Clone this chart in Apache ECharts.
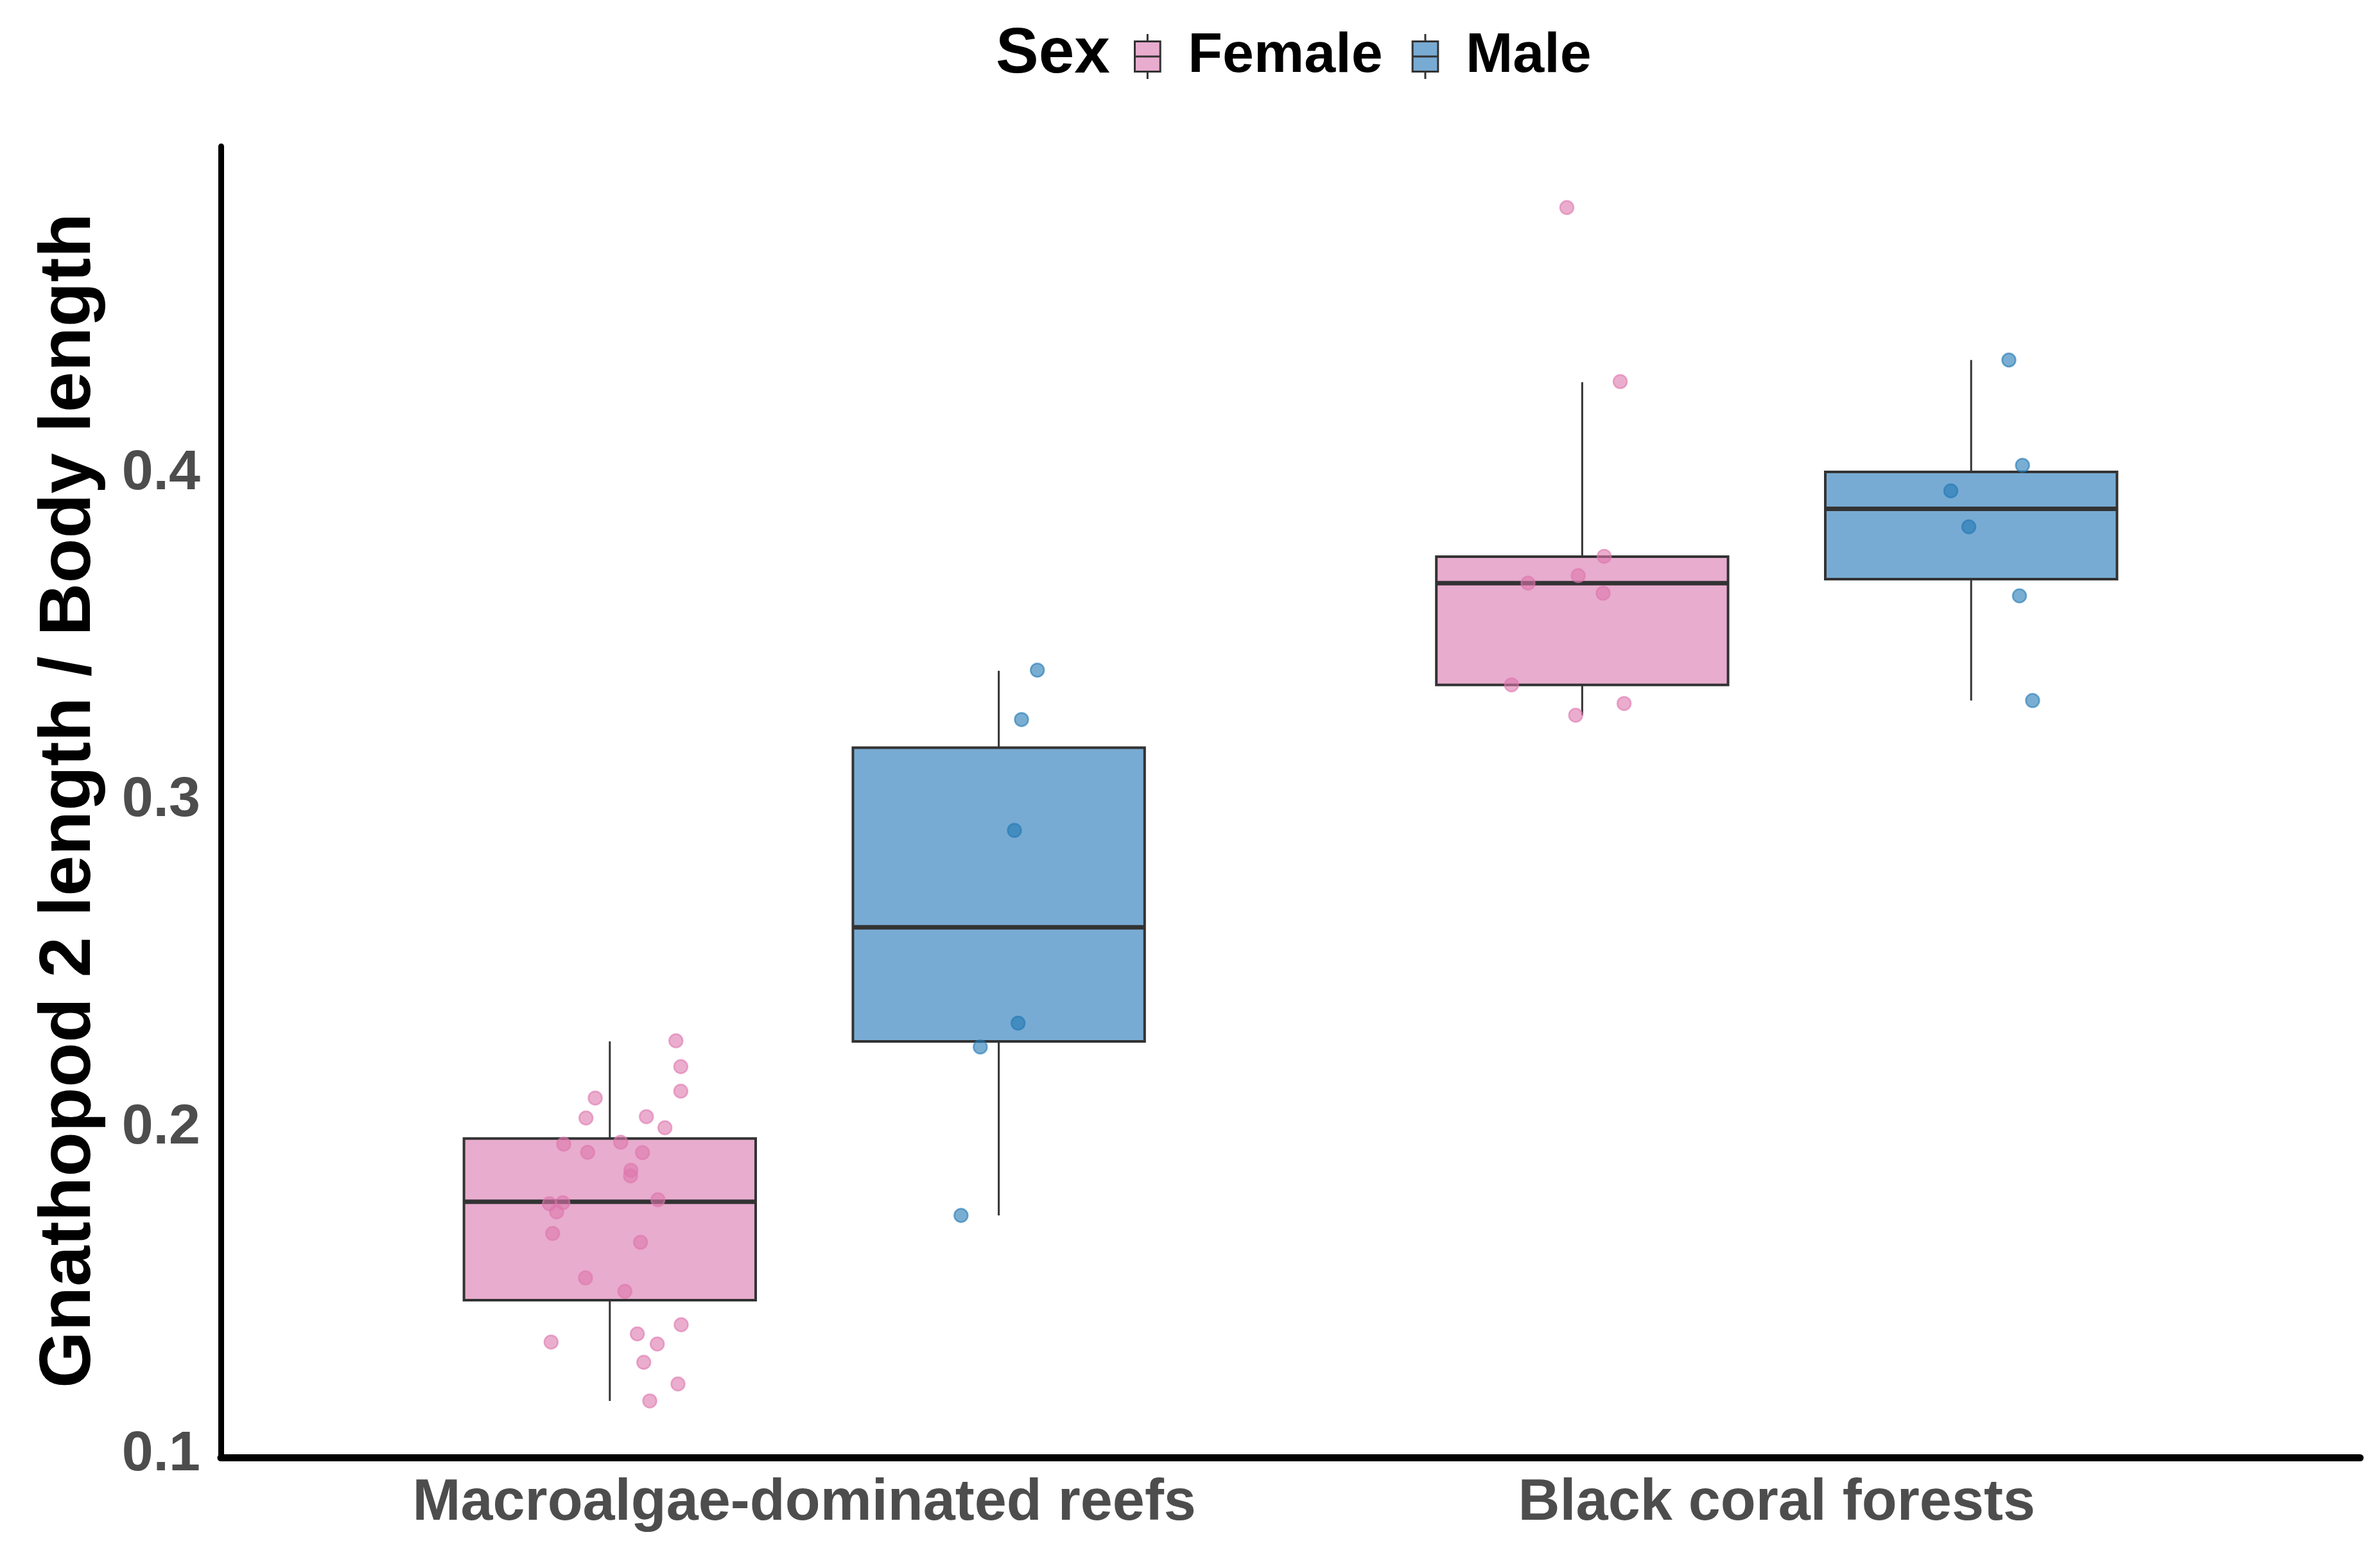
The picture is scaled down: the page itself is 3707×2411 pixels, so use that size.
<!DOCTYPE html>
<html>
<head>
<meta charset="utf-8">
<script src="https://cdn.jsdelivr.net/npm/echarts@6/dist/echarts.min.js"></script>
<style>
html,body{margin:0;padding:0;background:#fff;}
#chart{width:3707px;height:2411px;}
</style>
</head>
<body>
<div id="chart"></div>
<script>
// ---------------- DATA ----------------
const categories = ['Macroalgae-dominated reefs', 'Black coral forests'];
const sexes = ['Female', 'Male'];
const yTicks = [0.1, 0.2, 0.3, 0.4];

// box statistics per category: [lower whisker, Q1, median, Q3, upper whisker]
const femaleBoxes = [
  [0.1165, 0.1473, 0.1774, 0.1967, 0.2264],
  [0.3261, 0.3354, 0.3665, 0.3746, 0.4279]
];
const maleBoxes = [
  [0.1732, 0.2264, 0.2613, 0.3162, 0.3397],
  [0.3306, 0.3677, 0.3892, 0.4005, 0.4347]
];

// individual observations (ratio) and their horizontal jitter (axis units)
const femaleMacroalgae = [0.2266, 0.2187, 0.2112, 0.2091, 0.2030, 0.2034, 0.2000, 0.1950, 0.1925, 0.1956,
  0.1924, 0.1870, 0.1853, 0.1768, 0.1771, 0.1780, 0.1743, 0.1677, 0.1650, 0.1541,
  0.1500, 0.1398, 0.1345, 0.1370, 0.1339, 0.1283, 0.1217, 0.1165];
const femaleMacroalgaeJitter = [0.068, 0.073, 0.073, -0.015, -0.0245, 0.0376, 0.0567, -0.0474, -0.0228, 0.0112,
  0.0336, 0.0217, 0.0213, -0.0621, -0.0483, 0.0495, -0.0547, -0.0588, 0.0316, -0.025,
  0.0155, 0.0734, -0.0604, 0.0283, 0.0488, 0.0349, 0.0701, 0.0411];

const maleMacroalgae = [0.3399, 0.3248, 0.2909, 0.2320, 0.2247, 0.1732];
const maleMacroalgaeJitter = [0.0397, 0.0234, 0.0161, 0.0199, -0.019, -0.0388];

const femaleBlackCoral = [0.4813, 0.4281, 0.3747, 0.3688, 0.3665, 0.3634, 0.3354, 0.3297, 0.3261];
const femaleBlackCoralJitter = [-0.0158, 0.0391, 0.0226, -0.0041, -0.0557, 0.0215, -0.0727, 0.0431, -0.0067];

const maleBlackCoral = [0.4347, 0.4025, 0.3947, 0.3837, 0.3626, 0.3306];
const maleBlackCoralJitter = [0.0388, 0.0528, -0.0209, -0.0024, 0.0497, 0.0632];

// ---------------- LAYOUT HELPERS ----------------
const dodge = 0.2;      // offset of each sex from category centre
const boxWidth = 0.3;   // box width in axis units
const femaleFill = '#E8ACCE';
const maleFill = '#78ABD3';
const femalePoint = 'rgba(222,119,174,0.6)';
const malePoint = 'rgba(31,120,180,0.6)';
const outline = '#333333';

function boxData(boxes, offset) {
  return boxes.map((b, i) => [i + 1 + offset].concat(b));
}
function pointData(values, jitter, catIndex, offset) {
  return values.map((v, i) => [catIndex + 1 + offset + jitter[i], v]);
}

function renderBox(params, api) {
  const x = api.value(0);
  const lo = api.coord([x, api.value(1)]);
  const q1 = api.coord([x, api.value(2)]);
  const med = api.coord([x, api.value(3)]);
  const q3 = api.coord([x, api.value(4)]);
  const hi = api.coord([x, api.value(5)]);
  const w = api.size([boxWidth, 0])[0];
  const fill = api.visual('color');
  return {
    type: 'group',
    children: [
      { type: 'line', shape: { x1: hi[0], y1: hi[1], x2: q3[0], y2: q3[1] }, style: { stroke: outline, lineWidth: 3 } },
      { type: 'line', shape: { x1: q1[0], y1: q1[1], x2: lo[0], y2: lo[1] }, style: { stroke: outline, lineWidth: 3 } },
      { type: 'rect', shape: { x: q3[0] - w / 2, y: q3[1], width: w, height: q1[1] - q3[1] }, style: { fill: fill, stroke: outline, lineWidth: 4 } },
      { type: 'line', shape: { x1: med[0] - w / 2, y1: med[1], x2: med[0] + w / 2, y2: med[1] }, style: { stroke: outline, lineWidth: 7 } }
    ]
  };
}

const legendIcon = 'path://M19 0 L19 11 M0 11 L38 11 L38 56 L0 56 Z M0 33.5 L38 33.5 M19 56 L19 67';

const chart = echarts.init(document.getElementById('chart'), null, { renderer: 'canvas' });
const font = 'Liberation Sans, Arial, Helvetica, sans-serif';

const option = {
  backgroundColor: '#ffffff',
  animation: false,
  textStyle: { fontFamily: font },
  title: {
    text: 'Sex',
    left: 1551,
    top: 35,
    padding: 0,
    textStyle: { fontSize: 100, fontWeight: 'bold', color: '#000000', fontFamily: font }
  },
  legend: {
    left: 1766,
    top: 44,
    padding: 0,
    itemWidth: 40,
    itemHeight: 70,
    itemGap: 45,
    selectedMode: false,
    icon: legendIcon,
    data: [
      { name: 'Female', itemStyle: { color: femaleFill, borderColor: outline, borderWidth: 3 } },
      { name: 'Male', itemStyle: { color: maleFill, borderColor: outline, borderWidth: 3 } }
    ],
    textStyle: { fontSize: 88, fontWeight: 'bold', color: '#000000', fontFamily: font, padding: [0, 0, 0, 38] }
  },
  grid: { left: 344, right: 31, top: 228, bottom: 145, containLabel: false },
  xAxis: {
    type: 'value',
    min: 0.4,
    max: 2.6,
    interval: 0.2,
    offset: 4,
    axisLine: { show: true, lineStyle: { color: '#000000', width: 11 } },
    axisTick: { show: false },
    splitLine: { show: false },
    axisLabel: {
      margin: 27,
      fontSize: 90,
      fontWeight: 'bold',
      color: '#4D4D4D',
      fontFamily: font,
      showMinLabel: true,
      showMaxLabel: true,
      formatter: function (v) {
        const r = Math.round(v * 10) / 10;
        if (Math.abs(r - Math.round(r)) < 1e-6 && r >= 1 && r <= categories.length) return categories[Math.round(r) - 1];
        return '';
      }
    }
  },
  yAxis: {
    type: 'value',
    min: 0.1,
    max: 0.5,
    interval: 0.1,
    name: 'Gnathopod 2 length / Body length',
    nameLocation: 'middle',
    nameGap: 178,
    nameTextStyle: { fontSize: 114, fontWeight: 'bold', color: '#000000', fontFamily: font },
    axisLine: { show: true, lineStyle: { color: '#000000', width: 9 } },
    axisTick: { show: false },
    splitLine: { show: false },
    axisLabel: {
      margin: 32,
      fontSize: 88,
      fontWeight: 'bold',
      color: '#4D4D4D',
      fontFamily: font,
      showMaxLabel: false,
      formatter: function (v) {
        const t = yTicks.find(k => Math.abs(k - v) < 1e-6);
        return t === undefined ? '' : t.toFixed(1);
      }
    }
  },
  series: [
    {
      name: 'Female', type: 'custom', renderItem: renderBox,
      itemStyle: { color: femaleFill },
      encode: { x: 0, y: [1, 2, 3, 4, 5] },
      data: boxData(femaleBoxes, -dodge), z: 2
    },
    {
      name: 'Male', type: 'custom', renderItem: renderBox,
      itemStyle: { color: maleFill },
      encode: { x: 0, y: [1, 2, 3, 4, 5] },
      data: boxData(maleBoxes, dodge), z: 2
    },
    {
      name: 'Female', type: 'scatter', symbol: 'circle', symbolSize: 21, z: 5,
      itemStyle: { color: femalePoint, borderColor: femalePoint, borderWidth: 2.5, opacity: 1 },
      data: pointData(femaleMacroalgae, femaleMacroalgaeJitter, 0, -dodge)
        .concat(pointData(femaleBlackCoral, femaleBlackCoralJitter, 1, -dodge))
    },
    {
      name: 'Male', type: 'scatter', symbol: 'circle', symbolSize: 21, z: 5,
      itemStyle: { color: malePoint, borderColor: malePoint, borderWidth: 2.5, opacity: 1 },
      data: pointData(maleMacroalgae, maleMacroalgaeJitter, 0, dodge)
        .concat(pointData(maleBlackCoral, maleBlackCoralJitter, 1, dodge))
    }
  ]
};
chart.setOption(option);
</script>
</body>
</html>
